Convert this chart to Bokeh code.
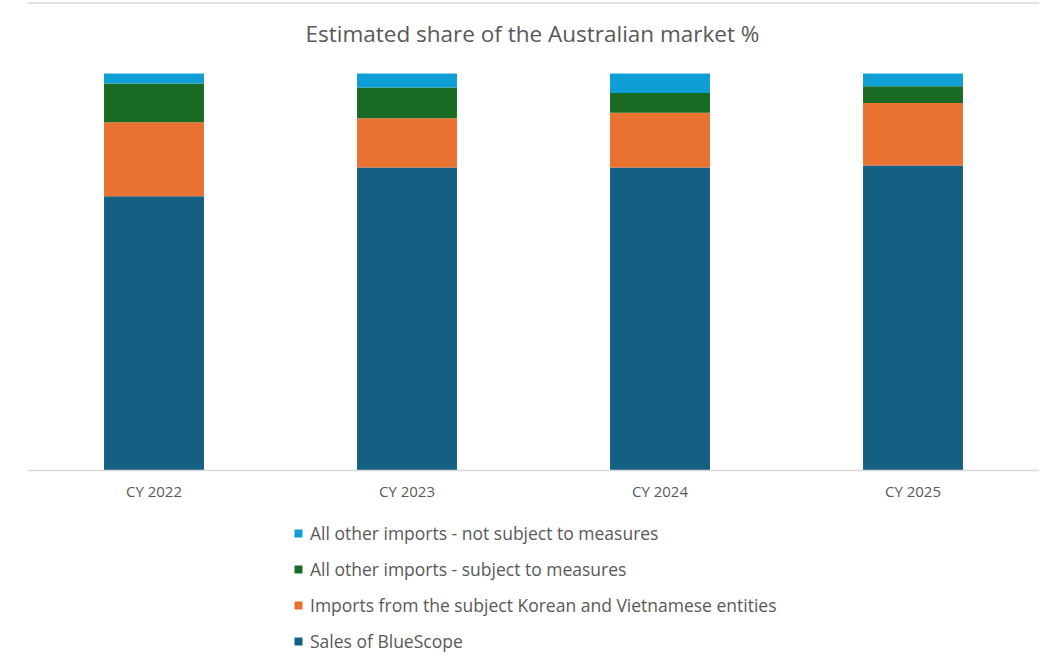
from bokeh.plotting import figure
from bokeh.models import ColumnDataSource, Legend, LegendItem, Range1d, FactorRange, Label, Span
from bokeh.embed import file_html
from bokeh.resources import INLINE

years = ["CY 2022", "CY 2023", "CY 2024", "CY 2025"]
bluescope = [69.1, 76.3, 76.3, 76.8]
korean_vietnamese = [18.6, 12.4, 13.8, 15.8]
other_subject = [9.8, 7.8, 5.0, 4.2]
other_not_subject = [2.5, 3.5, 4.9, 3.2]

series = ["bluescope", "korean_vietnamese", "other_subject", "other_not_subject"]
labels = ["Sales of BlueScope",
          "Imports from the subject Korean and Vietnamese entities",
          "All other imports - subject to measures",
          "All other imports - not subject to measures"]
colors = ["#156082", "#E97132", "#196B24", "#0F9ED5"]
title_text = "Estimated share of the Australian market %"

source = ColumnDataSource(dict(years=years, bluescope=bluescope,
                               korean_vietnamese=korean_vietnamese,
                               other_subject=other_subject,
                               other_not_subject=other_not_subject))

FONT = "Open Sans"
GREY = "#595959"
BORDER = "#d9d9d9"
HEIGHT = 652

# frame fills the whole canvas: 73 px above the bars, 397 px of bars, 182 px below
PX_PER_UNIT = 397 / 100
y_end = 100 + 73 / PX_PER_UNIT
y_start = -182 / PX_PER_UNIT

p = figure(x_range=FactorRange(*years), y_range=Range1d(y_start, y_end),
           width=1043, height=HEIGHT, output_backend="svg", toolbar_location=None,
           min_border_left=27, min_border_right=4, min_border_top=0, min_border_bottom=0,
           y_axis_location=None, outline_line_color=None)

renderers = p.vbar_stack(series, x="years", width=0.395, source=source,
                         color=colors, line_color=None)

# light chart-area border along the top
p.add_layout(Span(location=HEIGHT - 2.5, location_units="screen", dimension="width",
                  line_color=BORDER, line_width=1.5))

title = Label(x=505, y=619, x_units="screen", y_units="screen", text=title_text,
              text_align="center", text_baseline="middle", text_font=FONT,
              text_font_size="22.5px", text_color=GREY)
p.add_layout(title)

items = [LegendItem(label=labels[i], renderers=[renderers[i]]) for i in [3, 2, 1, 0]]
legend = Legend(items=items, location=(266, -1), orientation="vertical",
                glyph_width=10, glyph_height=10, label_standoff=7, label_height=24,
                spacing=12, padding=0, margin=0, border_line_color=None,
                background_fill_alpha=0, label_text_font=FONT,
                label_text_font_size="17.5px", label_text_color=GREY)
p.add_layout(legend, "center")

p.xgrid.grid_line_color = None
p.ygrid.grid_line_color = None
p.xaxis.fixed_location = 0
p.xaxis.axis_line_color = BORDER
p.xaxis.axis_line_width = 1.5
p.xaxis.major_tick_line_color = None
p.xaxis.minor_tick_line_color = None
p.xaxis.major_label_text_font = FONT
p.xaxis.major_label_text_font_size = "15px"
p.xaxis.major_label_text_color = GREY
p.xaxis.major_label_standoff = 4

with open("out.html", "w") as f:
    f.write(file_html(p, INLINE))
